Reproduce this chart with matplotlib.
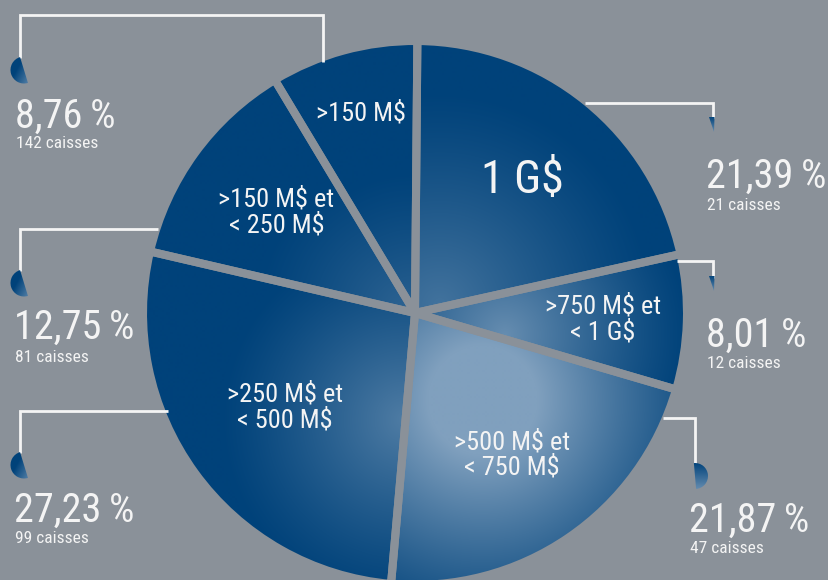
import numpy as np
import matplotlib
matplotlib.use("Agg")
import matplotlib.pyplot as plt
import matplotlib.font_manager as fm
from matplotlib.patches import Wedge, Polygon

# ---------------- data ----------------
categories = ['1 G$', '>750 M$ et\n< 1 G$', '>500 M$ et\n< 750 M$',
              '>250 M$ et\n< 500 M$', '>150 M$ et\n< 250 M$', '>150 M$']
shares = [21.39, 8.01, 21.87, 27.23, 12.75, 8.76]
caisses = [21, 12, 47, 99, 81, 142]

# ---------------- style ----------------
W, H = 829, 580
BG = '#8a9199'
NAVY = np.array([0, 66, 122]) / 255
LIGHT = np.array([128, 160, 190]) / 255
WHITE = '#f4f4f4'


def pick_font():
    names = {f.name for f in fm.fontManager.ttflist}
    for n in ['Liberation Sans Narrow', 'Roboto Condensed', 'Open Sans Condensed',
              'DejaVu Sans Condensed', 'Arial Narrow']:
        if n in names:
            return dict(family=[n, 'DejaVu Sans'])
    for f in fm.fontManager.ttflist:
        if f.name == 'DejaVu Sans' and 'condensed' in str(f.stretch):
            return dict(family='DejaVu Sans', fontstretch='condensed')
    return dict(family='DejaVu Sans')


FONT = pick_font()


def Y(y):
    return H - y


fig = plt.figure(figsize=(W / 100, H / 100), dpi=100, facecolor=BG)
ax = fig.add_axes([0, 0, 1, 1])
ax.set_facecolor(BG)

cx, cy, R = 415, Y(313), 272

wedges, _ = ax.pie(shares, center=(cx, cy), radius=R, startangle=89.5,
                   counterclock=False, frame=True,
                   wedgeprops=dict(facecolor='none', edgecolor=BG,
                                   linewidth=5.8, joinstyle='bevel', zorder=2))
ax.set_xlim(0, W)
ax.set_ylim(0, H)
ax.set_aspect('equal')
ax.axis('off')

# per-slice radial shading: (focus x, focus y, inner radius, outer radius, strength)
shading = [
    (440, 305, 0, 215, 0.52),
    (505, 335, 0, 185, 0.80),
    (483, 400, 55, 250, 1.00),
    (405, 420, 0, 185, 0.62),
    (405, 310, 0, 150, 0.35),
    (412, 300, 0, 130, 0.30),
]

xs = np.arange(cx - R - 2, cx + R + 2)
ys = np.arange(cy - R - 2, cy + R + 2)
XX, YY = np.meshgrid(xs, ys)
for w, (fx, fy, r0, r1, s) in zip(wedges, shading):
    d = np.hypot(XX - fx, YY - Y(fy))
    t = np.clip((d - r0) / (r1 - r0), 0, 1)
    a = s * (1 - t) ** 1.2
    img = a[..., None] * LIGHT + (1 - a)[..., None] * NAVY
    im = ax.imshow(img, extent=(xs[0], xs[-1], ys[0], ys[-1]), origin='lower',
                   interpolation='bilinear', zorder=1)
    im.set_clip_path(w)

ax.set_xlim(0, W)
ax.set_ylim(0, H)

# labels inside the slices
dists = [0.63, 0.69, 0.63, 0.59, 0.63, 0.76]
for w, lab, d in zip(wedges, categories, dists):
    ang = np.deg2rad((w.theta1 + w.theta2) / 2)
    x = cx + d * R * np.cos(ang)
    y = cy + d * R * np.sin(ang)
    fs = 33 if lab == '1 G$' else 19
    ax.text(x, y, lab, ha='center', va='center', color=WHITE, fontsize=fs,
            linespacing=1.05, zorder=5, **FONT)

# callouts: (text x, pct baseline, caisses baseline, connector path, drop kind, drop pos)
callouts = [
    (706, 188, 210, [(585, 103), (713, 103), (713, 118)], 'sliver', (713, 117)),
    (706, 347, 368, [(677, 261), (713, 261), (713, 278)], 'sliver', (713, 276)),
    (689, 532, 553, [(663, 418), (695, 418), (695, 464)], 'right', (695, 476)),
    (14, 522, 543, [(168, 411), (20, 411), (20, 453)], 'left', (24, 465)),
    (14, 339, 362, [(158, 229), (20, 229), (20, 271)], 'left', (24, 283)),
    (15, 128, 148, [(323, 62), (323, 15), (20, 15), (20, 58)], 'left', (24, 70)),
]


def add_drop(kind, pos):
    x0, y0 = pos
    if kind == 'left':
        patch = Wedge((x0, Y(y0)), 13.5, 107, 287)
        ext = (x0 - 14, x0 + 14, Y(y0) - 14, Y(y0) + 14)
    elif kind == 'right':
        patch = Wedge((x0, Y(y0)), 13, -85, 95)
        ext = (x0 - 14, x0 + 14, Y(y0) - 14, Y(y0) + 14)
    else:
        patch = Polygon([(x0 - 4, Y(y0)), (x0 + 1.5, Y(y0)), (x0 + 1, Y(y0 + 15))],
                        closed=True)
        ext = (x0 - 5, x0 + 3, Y(y0 + 16), Y(y0) + 1)
    patch.set_facecolor('none')
    patch.set_edgecolor('none')
    ax.add_patch(patch)
    if kind == 'left':
        gx = np.linspace(0, 1, 32)[None, :]
        gy = np.linspace(0, 1, 32)[:, None]
        a = np.clip(0.9 * gx + 0.5 * gy - 0.45, 0, 0.9)
    else:
        a = np.linspace(0.0, 0.8, 32)[:, None] * np.ones((1, 32))
    dimg = a[..., None] * LIGHT + (1 - a)[..., None] * NAVY
    di = ax.imshow(dimg, extent=ext, origin='upper', interpolation='bilinear',
                   zorder=4)
    di.set_clip_path(patch)


for (tx, pb, cb, path, kind, dpos), v, n in zip(callouts, shares, caisses):
    px = [p[0] for p in path]
    py = [Y(p[1]) for p in path]
    ax.plot(px, py, color=WHITE, lw=2.0, solid_joinstyle='miter',
            solid_capstyle='butt', zorder=3)
    add_drop(kind, dpos)
    pct = f"{v:.2f}".replace('.', ',') + '\u2009%'
    ax.text(tx, Y(pb), pct, ha='left', va='baseline', color=WHITE,
            fontsize=29, zorder=5, **FONT)
    ax.text(tx + 1, Y(cb), f"{n} caisses", ha='left', va='baseline',
            color=WHITE, fontsize=12.5, zorder=5, **FONT)

ax.set_xlim(0, W)
ax.set_ylim(0, H)
fig.savefig('out.png', dpi=100, facecolor=BG)
